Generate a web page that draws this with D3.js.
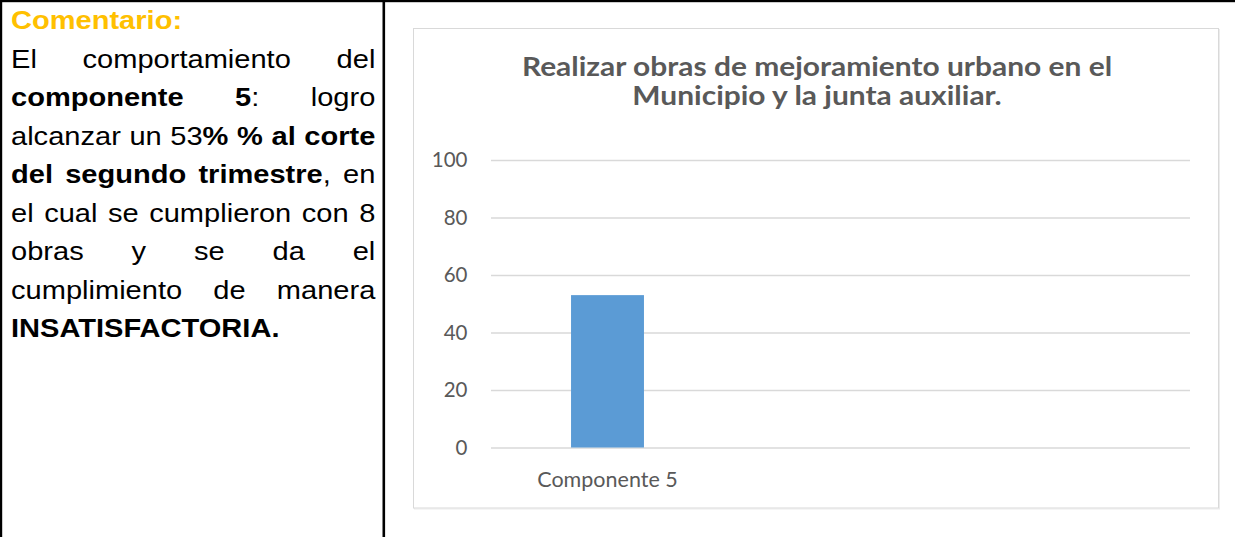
<!DOCTYPE html>
<html>
<head>
<meta charset="utf-8">
<script src="https://cdn.jsdelivr.net/npm/d3@7"></script>
<style>
    body { margin: 0; background: #fff; }
    #page { position: relative; width: 1235px; height: 537px; overflow: hidden; }
    #comment {
        position: absolute; left: 10.5px; top: 1.4px; width: 321px;
        font-family: "Liberation Sans", Arial, sans-serif; font-size: 25.6px;
        line-height: 38.5px; color: #000;
        transform: scaleX(1.135); transform-origin: 0 0;
    }
    #comment .line { white-space: nowrap; text-align: justify; text-align-last: justify; }
    #comment .line.last { text-align: left; text-align-last: left; }
    #comment .head { color: #ffc000; font-weight: bold; }
    svg { position: absolute; left: 0; top: 0; }
</style>
</head>
<body>
<div id="page">
    <svg id="chart"></svg>
    <div id="comment"></div>
</div>
<script>
// chart data
let categories = ["Componente 5", "", ""];
let values = [53, null, null];
let yTicks = [0, 20, 40, 60, 80, 100];
let titleLines = ["Realizar obras de mejoramiento urbano en el", "Municipio y la junta auxiliar."];

// commentary, one entry per printed line: [text, bold] pieces
let commentTitle = "Comentario:";
let commentLines = [
    [["El comportamiento del", false]],
    [["componente 5", true], [": logro", false]],
    [["alcanzar un 53", false], ["% % al corte", true]],
    [["del segundo trimestre", true], [", en", false]],
    [["el cual se cumplieron con 8", false]],
    [["obras y se da el", false]],
    [["cumplimiento de manera", false]],
    [["INSATISFACTORIA.", true]]
];

let width = 1235,
    height = 537;

let svg = d3.select("svg#chart")
    .attr("width", width)
    .attr("height", height);

// table borders
svg.append("rect").attr("x", 0).attr("y", 0).attr("width", width).attr("height", 2.2).attr("fill", "#000");
svg.append("rect").attr("x", 0).attr("y", 0).attr("width", 2.2).attr("height", height).attr("fill", "#000");
svg.append("rect").attr("x", 382.5).attr("y", 0).attr("width", 2.6).attr("height", height).attr("fill", "#000");

// left commentary
let comment = d3.select("#comment");
comment.append("div").attr("class", "line last head").text(commentTitle);
commentLines.forEach((parts, i) => {
    let line = comment.append("div")
        .attr("class", i === commentLines.length - 1 ? "line last" : "line");
    parts.forEach(p => {
        line.append("span")
            .style("font-weight", p[1] ? "bold" : "normal")
            .text(p[0]);
    });
});

// chart frame
let frame = { x: 413.5, y: 28.5, w: 805, h: 479.5 };
svg.append("rect")
    .attr("x", frame.x + 1).attr("y", frame.y + 1)
    .attr("width", frame.w).attr("height", frame.h)
    .attr("fill", "none").attr("stroke", "#ececec").attr("stroke-width", 1);
svg.append("rect")
    .attr("x", frame.x).attr("y", frame.y)
    .attr("width", frame.w).attr("height", frame.h)
    .attr("fill", "#fff").attr("stroke", "#d9d9d9").attr("stroke-width", 1);

// title is a bit wider than Lato, so stretch it horizontally
let title = svg.append("g")
    .attr("transform", `translate(${frame.x + frame.w / 2 + 1}, 0) scale(1.13, 1)`)
    .append("text")
    .attr("text-anchor", "middle")
    .attr("font-family", "Lato, 'Open Sans', sans-serif")
    .attr("font-weight", "bold")
    .attr("font-size", 26.5)
    .attr("fill", "#595959");
titleLines.forEach((t, i) => {
    title.append("tspan")
        .attr("x", 0)
        .attr("y", 76 + i * 29.5)
        .text(t);
});

let plotLeft = 491, plotRight = 1190, plotTop = 160, plotBottom = 447.5;

let x = d3.scaleBand()
    .domain(d3.range(categories.length))
    .range([plotLeft, plotRight])
    .paddingInner(0.687)
    .paddingOuter(0.3435);

let y = d3.scaleLinear()
    .domain([0, 100])
    .range([plotBottom, plotTop]);

let yAxis = svg.append("g")
    .attr("transform", `translate(${plotLeft}, 0)`)
    .call(d3.axisLeft(y)
        .tickValues(yTicks)
        .tickSizeInner(-(plotRight - plotLeft))
        .tickSizeOuter(0)
        .tickPadding(23.5));
yAxis.select(".domain").remove();
yAxis.selectAll(".tick line").attr("stroke", "#d9d9d9").attr("stroke-width", 1.3);
yAxis.selectAll(".tick text")
    .attr("font-family", "Lato, 'Open Sans', sans-serif")
    .attr("font-size", 20.5)
    .attr("fill", "#595959");

svg.append("g")
    .selectAll("rect")
    .data(values.map((v, i) => ({ v: v, i: i })).filter(d => d.v !== null))
    .enter()
    .append("rect")
    .attr("x", d => x(d.i))
    .attr("y", d => y(d.v))
    .attr("width", x.bandwidth())
    .attr("height", d => y(0) - y(d.v))
    .attr("fill", "#5b9bd5");

let xAxis = svg.append("g")
    .attr("transform", `translate(0, ${plotBottom})`)
    .call(d3.axisBottom(x)
        .tickSize(0)
        .tickPadding(24)
        .tickFormat(i => categories[i]));
xAxis.select(".domain").remove();
xAxis.selectAll(".tick text")
    .attr("font-family", "Lato, 'Open Sans', sans-serif")
    .attr("font-size", 21.5)
    .attr("fill", "#595959");
</script>
</body>
</html>
